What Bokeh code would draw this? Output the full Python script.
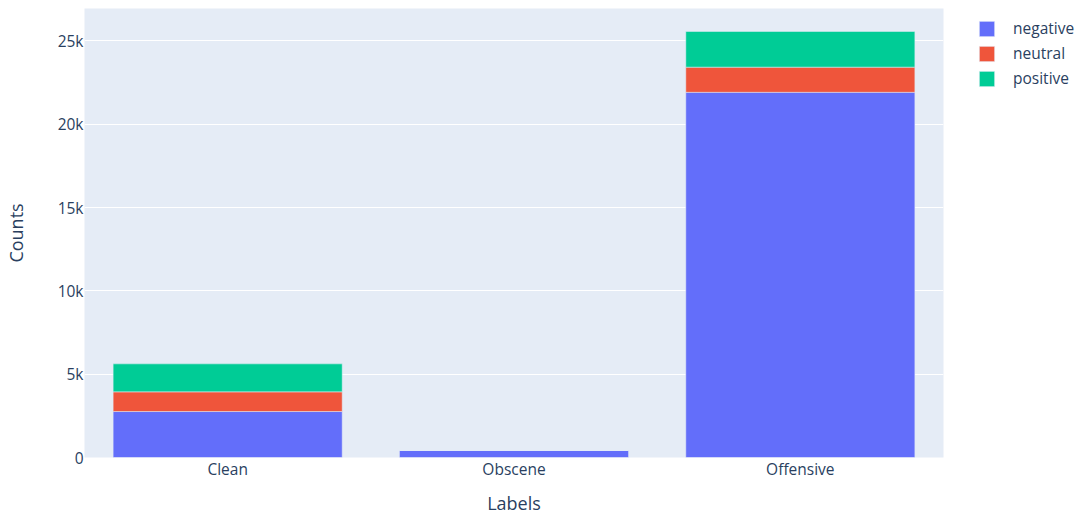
from bokeh.plotting import figure
from bokeh.models import ColumnDataSource, FactorRange, NumeralTickFormatter, Legend, LegendItem, FixedTicker
from bokeh.embed import file_html
from bokeh.resources import INLINE

labels = ["Clean", "Obscene", "Offensive"]
sentiments = ["negative", "neutral", "positive"]
negative = [2760, 420, 21920]
neutral = [1180, 0, 1510]
positive = [1680, 0, 2140]
colors = ["#636efa", "#EF553B", "#00cc96"]
y_ticks = [0, 5000, 10000, 15000, 20000, 25000]

source = ColumnDataSource(dict(labels=labels, negative=negative, neutral=neutral, positive=positive))

FONT = "Open Sans"
TXT = "#2a3f5f"

p = figure(width=1079, height=517, frame_width=859, frame_height=449,
           x_range=FactorRange(*labels), y_range=(0, 26950),
           output_backend="svg", toolbar_location=None,
           min_border_left=84, min_border_right=136, min_border_top=8, min_border_bottom=60)
p.background_fill_color = "#E5ECF6"
p.outline_line_color = None

renderers = p.vbar_stack(sentiments, x="labels", width=0.8, source=source, color=colors,
                         line_color="#E5ECF6", line_width=0.5)

p.xgrid.grid_line_color = None
p.ygrid.grid_line_color = "white"
p.ygrid.grid_line_width = 1

p.yaxis.ticker = FixedTicker(ticks=y_ticks)
p.yaxis.formatter = NumeralTickFormatter(format="0a")
for ax in (p.xaxis[0], p.yaxis[0]):
    ax.axis_line_color = None
    ax.major_tick_line_color = None
    ax.minor_tick_line_color = None
    ax.major_tick_out = 0
    ax.major_tick_in = 0
    ax.minor_tick_out = 0
    ax.minor_tick_in = 0
    ax.major_label_text_font = FONT
    ax.major_label_text_font_size = "15.5px"
    ax.major_label_text_color = TXT
    ax.axis_label_text_font = FONT
    ax.axis_label_text_font_size = "18px"
    ax.axis_label_text_font_style = "normal"
    ax.axis_label_text_color = TXT
p.yaxis.major_label_standoff = 1
p.xaxis.major_label_standoff = 0
p.xaxis.axis_label = "Labels"
p.yaxis.axis_label = "Counts"
p.yaxis.axis_label_standoff = 27
p.xaxis.axis_label_standoff = 8

legend = Legend(items=[LegendItem(label=s, renderers=[r]) for s, r in zip(sentiments, renderers)],
                location="top_left", padding=0, margin=9, spacing=3,
                glyph_width=19, glyph_height=19, label_height=15, label_standoff=17,
                label_text_font=FONT, label_text_font_size="15.5px", label_text_color=TXT,
                title=" ", title_text_font_size="1px", title_standoff=24, title_location="left",
                border_line_color=None, background_fill_alpha=0)
p.add_layout(legend, "right")

open("out.html", "w").write(file_html(p, INLINE))
